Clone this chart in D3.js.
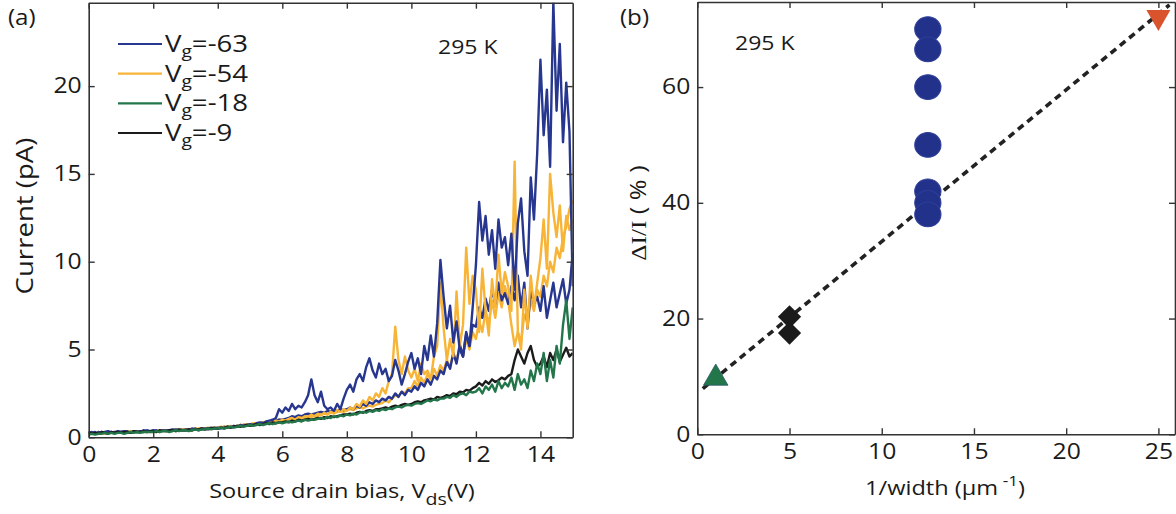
<!DOCTYPE html>
<html><head><meta charset="utf-8">
<script src="https://cdn.jsdelivr.net/npm/d3@7"></script>
<style>body{margin:0;background:#fff}svg{display:block}</style>
</head><body>
<svg id="c" width="1176" height="514"></svg>
<script>
// ---------------- DATA ----------------
// Panel (a): source-drain bias sweep, sampled every 0.1 V from 0 to 15 V
const vdsStart = 0, vdsStep = 0.1;
const legendLabels = ["-63", "-54", "-18", "-9"];
const xTicksA = [0, 2, 4, 6, 8, 10, 12, 14];
const yTicksA = [0, 5, 10, 15, 20];
// Vg = -63 (two sweeps)
const currentVg63a = [
0.25,0.3,0.2,0.3,0.25,0.3,0.35,0.25,0.3,0.3,
0.3,0.35,0.3,0.25,0.35,0.3,0.35,0.3,0.4,0.35,
0.35,0.4,0.3,0.4,0.35,0.4,0.45,0.35,0.4,0.4,
0.4,0.45,0.4,0.5,0.4,0.45,0.5,0.45,0.5,0.5,
0.5,0.55,0.5,0.6,0.55,0.65,0.6,0.7,0.65,0.7,
0.75,0.7,0.8,0.85,0.8,0.9,0.95,1.0,1.1,1.6,
1.4,1.7,1.5,1.9,1.6,1.8,1.7,2.0,2.4,3.3,
2.4,2.0,2.6,1.8,1.6,1.7,1.5,1.9,1.6,2.2,
2.7,3.0,2.6,3.3,3.6,3.2,4.0,4.5,3.8,3.4,
4.2,3.6,3.9,3.2,3.5,4.4,3.8,3.0,3.6,4.3,
4.8,3.9,4.5,3.6,5.2,4.4,5.8,4.6,6.5,10.1,
8.0,6.2,7.5,5.4,6.6,5.0,4.6,6.0,5.2,7.4,
9.8,13.4,11.2,12.6,10.4,11.8,9.6,12.4,10.8,11.4,
9.8,11.6,8.4,12.2,13.6,10.6,9.2,14.8,12.4,16.2,
21.5,17.2,19.8,15.4,24.8,18.6,22.4,16.8,20.2,17.4,
8.6];
const currentVg63b = [
0.2,0.25,0.3,0.2,0.3,0.25,0.3,0.3,0.25,0.35,
0.3,0.3,0.35,0.3,0.3,0.35,0.3,0.4,0.35,0.35,
0.4,0.35,0.35,0.4,0.4,0.35,0.4,0.45,0.4,0.45,
0.45,0.4,0.5,0.45,0.45,0.5,0.45,0.5,0.55,0.5,
0.55,0.5,0.6,0.55,0.6,0.6,0.65,0.65,0.7,0.7,
0.7,0.75,0.75,0.8,0.85,0.85,0.9,0.9,0.95,1.0,
1.0,1.05,1.1,1.2,1.15,1.25,1.2,1.3,1.35,1.3,
1.35,1.4,1.45,1.4,1.5,1.45,1.55,1.5,1.6,1.55,
1.6,1.7,1.6,1.8,1.7,1.9,1.8,2.0,1.9,2.1,
2.0,2.2,2.1,2.3,2.2,2.5,2.3,2.6,2.4,2.7,
2.6,2.9,2.7,3.1,2.9,3.3,3.0,3.5,3.3,3.8,
3.6,4.3,3.9,4.8,4.2,5.3,4.6,5.9,5.2,6.4,
6.3,7.4,6.8,7.9,7.2,8.4,7.6,8.8,7.8,8.2,
7.6,8.6,7.8,9.2,7.4,8.8,6.2,8.4,7.6,8.0,
7.2,8.6,6.8,7.8,8.8,7.4,8.2,9.0,7.6,8.4,
10.5];
// Vg = -54 (two sweeps)
const currentVg54a = [
0.2,0.25,0.2,0.3,0.25,0.2,0.3,0.25,0.3,0.25,
0.3,0.25,0.3,0.35,0.3,0.3,0.35,0.3,0.35,0.3,
0.35,0.3,0.35,0.4,0.35,0.4,0.35,0.4,0.4,0.45,
0.4,0.45,0.4,0.45,0.5,0.45,0.5,0.45,0.5,0.55,
0.5,0.55,0.6,0.55,0.6,0.65,0.6,0.7,0.65,0.75,
0.7,0.75,0.8,0.75,0.85,0.8,0.9,0.85,0.95,0.9,
1.0,0.95,1.05,1.1,1.0,1.15,1.1,1.2,1.15,1.3,
1.2,1.35,1.25,1.4,1.3,1.45,1.4,1.55,1.45,1.6,
1.5,1.7,1.6,1.9,1.75,2.1,1.9,2.3,2.1,2.5,
2.3,2.8,2.5,3.2,3.6,6.3,4.4,3.6,4.6,3.8,
3.4,3.9,3.2,4.2,3.6,3.8,3.3,4.6,5.2,8.8,
6.2,4.4,5.6,4.6,8.3,5.2,6.4,10.8,7.6,9.2,
8.4,6.0,9.6,7.2,5.8,9.0,7.4,10.4,8.2,9.4,
8.6,7.2,15.7,6.0,5.0,8.4,6.2,9.2,7.4,8.8,
10.2,12.4,9.6,15.0,12.8,11.4,13.2,10.6,12.6,11.8,
12.4];
const currentVg54b = [
0.25,0.2,0.25,0.25,0.3,0.25,0.25,0.3,0.25,0.3,
0.3,0.3,0.25,0.3,0.35,0.3,0.3,0.35,0.3,0.35,
0.3,0.35,0.4,0.35,0.4,0.35,0.4,0.45,0.4,0.4,
0.45,0.4,0.45,0.5,0.45,0.5,0.5,0.55,0.5,0.5,
0.55,0.6,0.55,0.6,0.65,0.6,0.65,0.7,0.7,0.75,
0.75,0.8,0.75,0.8,0.85,0.9,0.85,0.9,0.95,1.0,
0.95,1.0,1.05,1.0,1.1,1.05,1.15,1.1,1.2,1.15,
1.25,1.2,1.3,1.35,1.3,1.4,1.35,1.45,1.5,1.45,
1.55,1.6,1.55,1.65,1.7,1.65,1.75,1.8,1.75,1.85,
1.9,1.95,2.1,2.0,2.2,2.4,2.3,2.6,2.5,2.8,
2.8,3.2,2.9,3.4,3.1,3.6,3.3,3.9,3.5,4.1,
3.8,4.4,4.0,4.8,4.3,5.2,4.6,5.6,5.0,6.0,
5.6,6.6,6.0,7.2,6.4,7.8,6.8,8.2,7.4,8.6,
7.8,6.4,5.2,6.0,5.4,7.0,6.6,7.8,7.2,8.4,
8.0,9.2,8.6,10.0,9.4,10.8,10.2,11.4,12.0,13.0,
13.5];
// Vg = -18
const currentVg18 = [
0.15,0.2,0.15,0.2,0.2,0.25,0.2,0.25,0.2,0.25,
0.25,0.2,0.25,0.3,0.25,0.3,0.25,0.3,0.3,0.3,
0.3,0.35,0.3,0.35,0.35,0.3,0.35,0.4,0.35,0.4,
0.4,0.35,0.4,0.45,0.4,0.45,0.45,0.5,0.45,0.5,
0.5,0.55,0.5,0.55,0.6,0.55,0.6,0.65,0.6,0.65,
0.7,0.65,0.7,0.75,0.7,0.75,0.8,0.75,0.8,0.85,
0.8,0.85,0.9,0.85,0.9,0.95,0.9,1.0,0.95,1.0,
1.0,1.05,1.1,1.05,1.15,1.1,1.2,1.15,1.25,1.2,
1.3,1.25,1.35,1.3,1.4,1.45,1.4,1.5,1.45,1.55,
1.5,1.6,1.55,1.65,1.6,1.7,1.75,1.7,1.8,1.85,
1.8,1.9,1.95,1.9,2.0,2.1,2.05,2.15,2.1,2.2,
2.2,2.3,2.25,2.4,2.3,2.45,2.5,2.4,2.6,2.55,
2.6,2.8,2.5,2.9,2.7,3.0,2.6,3.2,2.8,3.1,
2.9,3.4,2.7,3.6,3.0,3.3,2.8,3.8,3.2,4.2,
3.6,4.8,3.2,4.4,3.4,5.2,4.2,6.4,7.8,5.6,
7.4];
// Vg = -9
const currentVg9 = [
0.3,0.2,0.25,0.2,0.3,0.25,0.2,0.3,0.25,0.3,
0.25,0.3,0.3,0.25,0.35,0.3,0.3,0.35,0.3,0.35,
0.35,0.3,0.4,0.35,0.35,0.4,0.4,0.35,0.45,0.4,
0.4,0.45,0.4,0.45,0.45,0.5,0.45,0.5,0.5,0.55,
0.5,0.55,0.55,0.6,0.55,0.6,0.65,0.6,0.65,0.7,
0.65,0.7,0.75,0.7,0.75,0.8,0.75,0.85,0.8,0.85,
0.85,0.9,0.85,0.95,0.9,1.0,0.95,1.0,1.05,1.0,
1.05,1.1,1.05,1.15,1.1,1.2,1.15,1.2,1.25,1.3,
1.3,1.35,1.3,1.4,1.45,1.4,1.5,1.55,1.5,1.6,
1.6,1.65,1.7,1.65,1.75,1.8,1.75,1.85,1.9,1.85,
1.9,2.0,2.05,2.0,2.1,2.15,2.2,2.15,2.3,2.25,
2.3,2.4,2.35,2.5,2.45,2.6,2.55,2.7,2.65,2.8,
2.9,3.1,2.95,3.2,3.05,3.3,3.15,3.25,3.4,3.3,
3.5,3.6,4.4,5.0,4.6,4.2,4.8,5.2,4.4,4.0,
4.2,4.6,4.0,4.8,4.4,5.0,4.3,4.7,5.1,4.6,
4.8];

// Panel (b)
const xTicksB = [0, 5, 10, 15, 20, 25];
const yTicksB = [0, 20, 40, 60];
const circleX = [12.5, 12.5, 12.5, 12.5, 12.5, 12.5, 12.5];
const circleY = [70, 66.5, 60, 50, 42, 40, 38];
const diamondX = [5, 5];
const diamondY = [20.3, 17.5];
const triUpX = [1];
const triUpY = [9.7];
const triDownX = [25];
const triDownY = [72.1];
const fitX = [0.3, 25.6];
const fitY = [7.9, 74.2];

// ---------------- STYLE ----------------
const COL = {blue:"#27368f", orange:"#f7b437", green:"#23764a", black:"#1b1b1b",
             red:"#d9532c", axis:"#333", text:"#1a1a1a", dot:"#22318a"};
const SX = 1.15;
const FONT = "'Open Sans', sans-serif";
const TICK = 21.5;

const svg = d3.select("#c");

function txt(parent, x, y, o) {
  const g = parent.append("g")
    .attr("transform", `translate(${x},${y}) rotate(${o.rot||0}) scale(${o.sx||SX},1)`);
  return g.append("text")
    .attr("font-family", o.family || FONT)
    .attr("font-size", o.size || 20)
    .attr("fill", COL.text)
    .attr("text-anchor", o.anchor || "start");
}

// ---------------- PANEL A ----------------
const xA = d3.scaleLinear().domain([0, 15]).range([88.7, 572.7]);
const yA = d3.scaleLinear().domain([0, 24.75]).range([437.3, 2.7]);
const gA = svg.append("g");

gA.append("clipPath").attr("id","clipA").append("rect")
  .attr("x", xA(0)).attr("y", yA(24.75)).attr("width", xA(15)-xA(0)).attr("height", yA(0)-yA(24.75));

const lineA = d3.line().x((d,i)=>xA(vdsStart + i*vdsStep)).y(d=>yA(d));
const traces = [
  [currentVg54b, COL.orange],
  [currentVg63b, COL.blue],
  [currentVg54a, COL.orange],
  [currentVg63a, COL.blue],
  [currentVg9, COL.black],
  [currentVg18, COL.green]
];
const plotA = gA.append("g").attr("clip-path","url(#clipA)");
traces.forEach(([arr, c]) => {
  plotA.append("path").attr("d", lineA(arr)).attr("fill","none")
    .attr("stroke", c).attr("stroke-width", 2.4).attr("stroke-linejoin","round");
});

function styleAxis(sel) {
  sel.select(".domain").attr("stroke", COL.axis).attr("stroke-width", 1.6);
  sel.selectAll(".tick line").attr("stroke", COL.axis).attr("stroke-width", 1.4);
}
function drawFrame(g, x, y, xt, yt, xPad) {
  const [x0, x1] = x.range(), [y0, y1] = y.range();
  const bottom = g.append("g").attr("transform", `translate(0,${y0})`)
    .call(d3.axisBottom(x).tickValues(xt).tickSizeInner(-6).tickSizeOuter(0).tickPadding(xPad));
  bottom.selectAll("text").attr("font-family", FONT).attr("font-size", TICK).attr("fill", COL.text)
    .attr("transform", `scale(${SX},1)`);
  styleAxis(bottom);
  const top = g.append("g").attr("transform", `translate(0,${y1})`)
    .call(d3.axisTop(x).tickValues(xt).tickSizeInner(-6).tickSizeOuter(0).tickFormat(""));
  styleAxis(top);
  const left = g.append("g").attr("transform", `translate(${x0},0)`)
    .call(d3.axisLeft(y).tickValues(yt).tickSizeInner(-6).tickSizeOuter(0));
  left.selectAll("text").attr("font-family", FONT).attr("font-size", TICK).attr("fill", COL.text)
    .attr("x", 0).attr("transform", `translate(-7,0) scale(${SX},1)`);
  styleAxis(left);
  const right = g.append("g").attr("transform", `translate(${x1},0)`)
    .call(d3.axisRight(y).tickValues(yt).tickSizeInner(-6).tickSizeOuter(0).tickFormat(""));
  styleAxis(right);
}
drawFrame(gA, xA, yA, xTicksA, yTicksA, 9);

// legend
const legCols = [COL.blue, COL.orange, COL.green, COL.black];
const legY = d3.scalePoint().domain(legendLabels).range([44, 133]);
legendLabels.forEach((lab, i) => {
  const yy = legY(lab);
  gA.append("line").attr("x1",118).attr("x2",162).attr("y1",yy).attr("y2",yy)
    .attr("stroke", legCols[i]).attr("stroke-width", 2.2);
  const t = txt(gA, 165, yy + 8, {size: 23, sx: 1.2});
  t.append("tspan").text("V");
  t.append("tspan").attr("font-size", 16).attr("dy", 5).text("g");
  t.append("tspan").attr("dy", -5).text("=" + lab);
});
txt(gA, 438, 54, {size: 20}).text("295 K");
txt(gA, 8, 25, {size: 21}).text("(a)");
// axis titles
{
  const t = txt(gA, 342, 498, {size: 20.5, anchor: "middle"});
  t.append("tspan").text("Source drain bias, V");
  t.append("tspan").attr("font-size", 17).attr("dy", 7).text("ds");
  t.append("tspan").attr("dy", -7).text("(V)");
}
{
  const g = gA.append("g").attr("transform", "translate(33,216) rotate(-90) scale(1.2,1)");
  g.append("text").attr("font-family", FONT).attr("font-size", 23).attr("fill", COL.text)
    .attr("text-anchor","middle").text("Current (pA)");
}

// ---------------- PANEL B ----------------
const xB = d3.scaleLinear().domain([0, 25.9]).range([697.3, 1175]);
const yB = d3.scaleLinear().domain([0, 74.7]).range([434.3, 2]);
const gB = svg.append("g");

gB.append("path")
  .attr("d", d3.line().x(d=>xB(d[0])).y(d=>yB(d[1]))(fitX.map((v,i)=>[v, fitY[i]])))
  .attr("stroke", "#222").attr("stroke-width", 3.6).attr("stroke-dasharray", "7,5").attr("fill","none");

const sym = (type, size) => d3.symbol().type(type).size(size)();
circleX.forEach((v,i) => {
  gB.append("path").attr("d", sym(d3.symbolCircle, 500))
    .attr("transform", `translate(${xB(v)},${yB(circleY[i])}) scale(1.04,0.98)`)
    .attr("fill", COL.dot).attr("stroke", "#2e3f98").attr("stroke-width", 1);
});
diamondX.forEach((v,i) => {
  gB.append("path").attr("d", sym(d3.symbolSquare, 270))
    .attr("transform", `translate(${xB(v)},${yB(diamondY[i])}) rotate(45)`)
    .attr("fill", COL.black);
});
triUpX.forEach((v,i) => {
  gB.append("path").attr("d", sym(d3.symbolTriangle, 260))
    .attr("transform", `translate(${xB(v)},${yB(triUpY[i])})`)
    .attr("fill", COL.green).attr("stroke", "#2a5a6a").attr("stroke-width", 0.8);
});
triDownX.forEach((v,i) => {
  gB.append("path").attr("d", sym(d3.symbolTriangle, 250))
    .attr("transform", `translate(${xB(v)},${yB(triDownY[i])}) rotate(180)`)
    .attr("fill", COL.red);
});

drawFrame(gB, xB, yB, xTicksB, yTicksB, 9);

txt(gB, 735, 50, {size: 20}).text("295 K");
txt(gB, 620, 25, {size: 21}).text("(b)");
{
  const t = txt(gB, 1025, 495, {size: 20.5, anchor: "end"});
  t.append("tspan").text("1/width (μm");
  t.append("tspan").attr("font-size", 15).attr("dy", -9).text(" -1");
  t.append("tspan").attr("dy", 9).text(")");
}
{
  const g = gB.append("g").attr("transform", "translate(646,213) rotate(-90) scale(1.2,1)");
  const t = g.append("text").attr("font-size", 21).attr("fill", COL.text).attr("text-anchor","middle");
  t.append("tspan").attr("font-family", "'Liberation Serif', serif").text("ΔI/I");
  t.append("tspan").attr("font-family", FONT).text(" ( % )");
}
</script>
</body></html>
